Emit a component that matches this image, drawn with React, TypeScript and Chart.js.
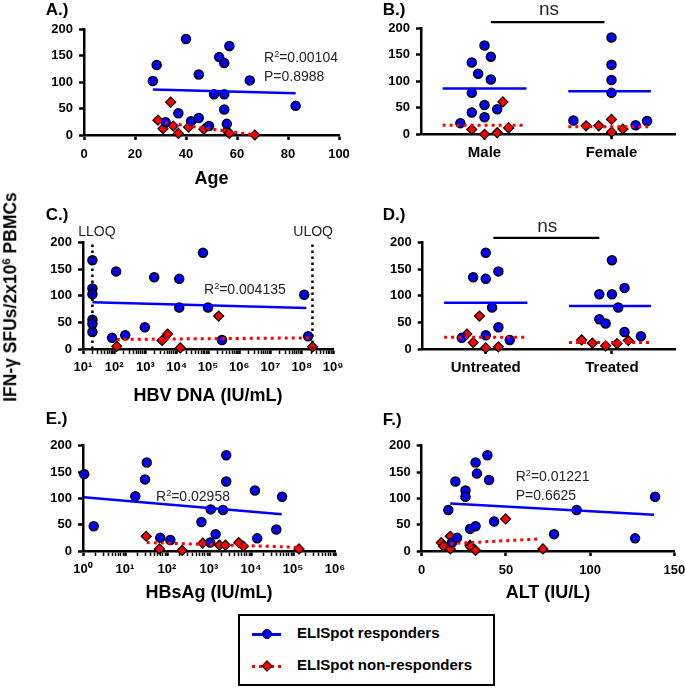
import React, { useEffect, useRef } from "react";
import { Chart, registerables } from "chart.js";
Chart.register(...registerables);

const FONT = "'Liberation Sans', Arial, Helvetica, sans-serif";
const BLUE = "#0000ff";
const RED = "#ff0000";
const ANNO = "#262626";

const yTicks = [0, 50, 100, 150, 200];

// ---- A: Age ----
const ageTicks = [0, 20, 40, 60, 80, 100];
const ageRespX = [27, 28.5, 40, 45, 37, 32, 42, 45, 49, 53, 55, 57, 51, 55, 55, 56, 65, 83];
const ageRespY = [102, 132, 181, 114, 41, 24, 26, 32, 17, 147, 136, 168, 77, 77, 48, 21, 103, 55];
const ageNonX = [29, 34, 31, 35, 37, 41, 47, 56, 57, 67];
const ageNonY = [28, 62, 12, 17, 3, 15, 11, 8, 3, 0];
const ageRespFitX = [27, 83];
const ageRespFitY = [86, 79];
const ageNonFitX = [29, 67];
const ageNonFitY = [25, 0];

// ---- B: Sex ----
const sexCats = ["Male", "Female"];
const maleRespX = [0, -0.1, 0.05, -0.05, 0.05, -0.1, 0, 0.1, -0.1, 0, -0.19];
const maleRespY = [167, 135, 146, 114, 103, 78, 55, 47, 41, 32, 21];
const maleNonX = [0.145, -0.1, 0, 0.1, 0.19];
const maleNonY = [61, 9, 0, 3, 12];
const femaleRespX = [1, 1, 1, 1, 0.7, 1.19, 1.28];
const femaleRespY = [182, 131, 102, 78, 26, 17, 25];
const femaleNonX = [1, 0.8, 0.9, 1.09, 1];
const femaleNonY = [28, 16, 16, 10, 4];
const sexRespMean = [86, 81];
const sexNonMean = [17, 14];
const sexNs = 211;

// ---- C: HBV DNA ----
const dnaRespX = [20, 20, 20, 20, 20, 20, 85, 115, 225, 950, 1900, 12000, 12000, 69000, 100000, 280000, 1.2e8, 1.6e8];
const dnaRespY = [167, 114, 103, 55, 47, 32, 21, 146, 26, 41, 135, 132, 78, 181, 78, 17, 102, 24];
const dnaNonX = [120, 3400, 5100, 13000, 220000, 2.2e8];
const dnaNonY = [5, 16, 28, 2, 62, 4];
const dnaRespFitX = [20, 1.4e8];
const dnaRespFitY = [88, 77];
const dnaNonFitX = [120, 2.2e8];
const dnaNonFitY = [18, 21];
const LLOQ = 20;
const ULOQ = 2.2e8;

// ---- D: Treatment ----
const trtCats = ["Untreated", "Treated"];
const untrRespX = [0, -0.1, 0, 0.1, 0.05, 0.1, -0.19, 0, 0.19];
const untrRespY = [181, 135, 132, 146, 78, 41, 21, 26, 17];
const untrNonX = [-0.05, -0.15, -0.1, 0, 0.1];
const untrNonY = [62, 28, 12, 2, 4];
const trtRespX = [1, 0.9, 1, 1.1, 1.05, 0.9, 0.95, 1.1, 1.23];
const trtRespY = [167, 103, 103, 115, 78, 56, 48, 32, 24];
const trtNonX = [0.76, 0.845, 0.95, 1.04, 1.13];
const trtNonY = [17, 11, 6, 10, 16];
const trtRespMean = [87, 81];
const trtNonMean = [22, 12];
const trtNs = 209;

// ---- E: HBsAg ----
const hbsRespX = [1.07, 1.8, 17.6, 33, 30, 69, 120, 660, 1100, 1070, 1440, 2150, 2570, 2570, 12400, 14000, 40000, 55000];
const hbsRespY = [146, 47, 104, 168, 136, 25, 21, 55, 79, 16, 32, 78, 182, 132, 115, 24, 41, 103];
const hbsNonX = [32, 66, 230, 710, 1770, 2460, 5100, 6600, 139000];
const hbsNonY = [28, 4, 1, 15, 11, 11, 16, 9, 4];
const hbsRespFitX = [1.05, 54000];
const hbsRespFitY = [102, 70];
const hbsNonFitX = [33, 139000];
const hbsNonFitY = [16, 7];

// ---- F: ALT ----
const altTicks = [0, 50, 100, 150];
const altRespX = [15.8, 18, 20, 21, 26, 26, 28.7, 32, 32.8, 32, 39, 40, 43, 78.6, 92, 126.7, 138.6];
const altRespY = [78, 16, 132, 25, 115, 103, 42, 168, 147, 47, 182, 135, 56, 32, 78, 24, 103];
const altNonX = [11.6, 13, 17, 17, 28.7, 29, 32, 49.8, 72];
const altNonY = [16, 9, 28, 4, 11, 8, 1, 61, 4];
const altRespFitX = [17, 138];
const altRespFitY = [90, 69];
const altNonFitX = [17, 70];
const altNonFitY = [14, 23];

const pts = (xs: number[], ys: number[]) => xs.map((x, i) => ({ x, y: ys[i] }));

const SUP: Record<string, string> = { "0": "⁰", "1": "¹", "2": "²", "3": "³", "4": "⁴", "5": "⁵", "6": "⁶", "7": "⁷", "8": "⁸", "9": "⁹" };

const respDots = (data: any[]) => ({
  type: "scatter", data, pointStyle: "circle", pointRadius: 4.5, pointHoverRadius: 4.5,
  backgroundColor: BLUE, borderColor: "#000", borderWidth: 1.5, clip: false, order: 1,
});
const nonDots = (data: any[]) => ({
  type: "scatter", data, pointStyle: "rectRot", pointRadius: 5, pointHoverRadius: 5,
  backgroundColor: RED, borderColor: "#000", borderWidth: 1.2, clip: false, order: 2,
});
const line = (data: any[], color: string, dash: number[] = [], width = 2.5) => ({
  type: "line", data, borderColor: color, borderWidth: width, borderDash: dash, pointRadius: 0,
  pointHoverRadius: 0, fill: false, tension: 0, clip: false, order: 0,
});
const respLine = (data: any[]) => line(data, BLUE, [], 2.5);
const nonLine = (data: any[]) => line(data, RED, [3, 4], 3);

const tickFont = { family: FONT, size: 13, weight: "bold" as const };

function linearX(min: number, max: number, ticks: number[]) {
  return {
    type: "linear", min, max,
    afterBuildTicks: (s: any) => { s.ticks = ticks.map((v) => ({ value: v })); },
    ticks: { color: "#000", padding: 7, maxRotation: 0, autoSkip: false, font: tickFont },
  };
}

function logX(minExp: number, maxExp: number) {
  const t: any[] = [];
  for (let e = minExp; e < maxExp; e++) for (let m = 1; m < 10; m++) t.push({ value: m * Math.pow(10, e), major: m === 1 });
  t.push({ value: Math.pow(10, maxExp), major: true });
  return {
    type: "logarithmic", min: Math.pow(10, minExp), max: Math.pow(10, maxExp),
    afterBuildTicks: (s: any) => { s.ticks = t.map((o) => ({ ...o })); },
    ticks: {
      color: "#000", padding: 6, maxRotation: 0, minRotation: 0, autoSkip: false, font: tickFont,
      callback: (v: number, i: number, ticks: any[]) => {
        if (!ticks[i] || !ticks[i].major) return "";
        const e = String(Math.round(Math.log10(v)));
        return "10" + e.split("").map((c) => SUP[c] || c).join("");
      },
    },
  };
}

function catX(cats: string[]) {
  return {
    type: "linear", min: -0.5, max: 1.5,
    afterBuildTicks: (s: any) => { s.ticks = cats.map((_, i) => ({ value: i })); },
    ticks: {
      color: "#000", padding: 5, maxRotation: 0, autoSkip: false,
      font: { family: FONT, size: 15, weight: "bold" as const },
      callback: (v: number) => cats[Math.round(v)] ?? "",
    },
  };
}

type PanelDef = {
  left: number; top: number; w: number; h: number;
  area: { l: number; r: number; t: number; b: number };
  x: any; xTitle?: string; titlePad?: number; minorTicks?: boolean;
  datasets: any[];
};

function buildConfig(d: PanelDef): any {
  const { area, w, h } = d;
  const zeroPad = (s: any) => { s.paddingLeft = 0; s.paddingRight = 0; s.paddingTop = 0; s.paddingBottom = 0; };
  const y = {
    type: "linear", min: 0, max: 200,
    afterBuildTicks: (s: any) => { s.ticks = yTicks.map((v) => ({ value: v })); },
    afterFit: (s: any) => { s.width = area.l; zeroPad(s); },
    grid: { display: true, drawOnChartArea: false, drawTicks: true, tickLength: 5, tickWidth: 2.5, tickColor: "#000" },
    border: { display: true, color: "#000", width: 2.5 },
    ticks: { color: "#000", padding: 6, font: tickFont },
  };
  const x = {
    ...d.x,
    afterFit: (s: any) => { s.height = h - area.b; zeroPad(s); },
    grid: {
      display: true, drawOnChartArea: false, drawTicks: true, tickLength: 5, tickColor: "#000",
      tickWidth: d.minorTicks ? (ctx: any) => (ctx.tick && ctx.tick.major ? 2.5 : 1.5) : 2.5,
    },
    border: { display: true, color: "#000", width: 2.5 },
    title: {
      display: !!d.xTitle, text: d.xTitle || "", color: "#000",
      font: { family: FONT, size: 18, weight: "bold" }, padding: { top: 0, bottom: d.titlePad ?? 8 },
    },
  };
  return {
    type: "scatter",
    data: { datasets: d.datasets },
    options: {
      animation: false, responsive: false, devicePixelRatio: 1, events: [],
      layout: { padding: { left: 0, top: area.t, right: w - area.r, bottom: 0 } },
      plugins: { legend: { display: false }, tooltip: { enabled: false }, title: { display: false } },
      scales: { x, y },
    },
  };
}

const panels: PanelDef[] = [
  {
    left: 0, top: 0, w: 360, h: 200, area: { l: 84, r: 339, t: 29, b: 135 },
    x: linearX(0, 100, ageTicks), xTitle: "Age", titlePad: 10.5,
    datasets: [
      respLine(pts(ageRespFitX, ageRespFitY)), nonLine(pts(ageNonFitX, ageNonFitY)),
      respDots(pts(ageRespX, ageRespY)), nonDots(pts(ageNonX, ageNonY)),
    ],
  },
  {
    left: 345, top: 0, w: 340, h: 200, area: { l: 76, r: 330, t: 28, b: 134.3 },
    x: catX(sexCats),
    datasets: [
      respLine([{ x: -0.33, y: sexRespMean[0] }, { x: 0.33, y: sexRespMean[0] }]),
      respLine([{ x: 0.66, y: sexRespMean[1] }, { x: 1.31, y: sexRespMean[1] }]),
      nonLine([{ x: -0.33, y: sexNonMean[0] }, { x: 0.33, y: sexNonMean[0] }]),
      nonLine([{ x: 0.66, y: sexNonMean[1] }, { x: 1.31, y: sexNonMean[1] }]),
      line([{ x: 0.05, y: sexNs }, { x: 0.945, y: sexNs }], "#000", [], 2.2),
      respDots(pts(maleRespX, maleRespY)), respDots(pts(femaleRespX, femaleRespY)),
      nonDots(pts(maleNonX, maleNonY)), nonDots(pts(femaleNonX, femaleNonY)),
    ],
  },
  {
    left: 0, top: 200, w: 360, h: 215, area: { l: 83, r: 333, t: 42.7, b: 149 },
    x: logX(1, 9), xTitle: "HBV DNA (IU/mL)", titlePad: 8, minorTicks: true,
    datasets: [
      line([{ x: LLOQ, y: 0 }, { x: LLOQ, y: 200 }], "#000", [2.5, 3.5], 2.5),
      line([{ x: ULOQ, y: 0 }, { x: ULOQ, y: 200 }], "#000", [2.5, 3.5], 2.5),
      respLine(pts(dnaRespFitX, dnaRespFitY)), nonLine(pts(dnaNonFitX, dnaNonFitY)),
      respDots(pts(dnaRespX, dnaRespY)), nonDots(pts(dnaNonX, dnaNonY)),
    ],
  },
  {
    left: 345, top: 200, w: 340, h: 215, area: { l: 77.7, r: 330, t: 42.7, b: 149 },
    x: catX(trtCats),
    datasets: [
      respLine([{ x: -0.33, y: trtRespMean[0] }, { x: 0.33, y: trtRespMean[0] }]),
      respLine([{ x: 0.66, y: trtRespMean[1] }, { x: 1.31, y: trtRespMean[1] }]),
      nonLine([{ x: -0.33, y: trtNonMean[0] }, { x: 0.33, y: trtNonMean[0] }]),
      nonLine([{ x: 0.66, y: trtNonMean[1] }, { x: 1.31, y: trtNonMean[1] }]),
      line([{ x: 0.06, y: trtNs }, { x: 0.9, y: trtNs }], "#000", [], 2.2),
      respDots(pts(untrRespX, untrRespY)), respDots(pts(trtRespX, trtRespY)),
      nonDots(pts(untrNonX, untrNonY)), nonDots(pts(trtNonX, trtNonY)),
    ],
  },
  {
    left: 0, top: 415, w: 360, h: 200, area: { l: 83, r: 335, t: 30.7, b: 136 },
    x: logX(0, 6), xTitle: "HBsAg (IU/mL)", titlePad: 11, minorTicks: true,
    datasets: [
      respLine(pts(hbsRespFitX, hbsRespFitY)), nonLine(pts(hbsNonFitX, hbsNonFitY)),
      respDots(pts(hbsRespX, hbsRespY)), nonDots(pts(hbsNonX, hbsNonY)),
    ],
  },
  {
    left: 345, top: 415, w: 340, h: 200, area: { l: 76.7, r: 329.3, t: 30.7, b: 136 },
    x: linearX(0, 150, altTicks), xTitle: "ALT (IU/L)", titlePad: 11,
    datasets: [
      respLine(pts(altRespFitX, altRespFitY)), nonLine(pts(altNonFitX, altNonFitY)),
      respDots(pts(altRespX, altRespY)), nonDots(pts(altNonX, altNonY)),
    ],
  },
];

function PanelChart({ def }: { def: PanelDef }) {
  const ref = useRef<HTMLCanvasElement>(null);
  useEffect(() => {
    const c = new Chart(ref.current as HTMLCanvasElement, buildConfig(def));
    return () => c.destroy();
  }, []);
  return (
    <canvas ref={ref} width={def.w} height={def.h}
      style={{ position: "absolute", left: def.left, top: def.top, width: def.w, height: def.h }} />
  );
}

function T({ x, y, size, bold, color, center, children }: any) {
  return (
    <div style={{
      position: "absolute", left: x, top: y, fontFamily: FONT, fontSize: size, lineHeight: 1,
      fontWeight: bold ? "bold" : "normal", color: color || "#000", whiteSpace: "nowrap",
      transform: center ? "translateX(-50%)" : undefined,
    }}>{children}</div>
  );
}

const Sup = ({ children }: any) => (
  <span style={{ fontSize: "0.65em", position: "relative", top: "-0.5em" }}>{children}</span>
);

export default function App() {
  return (
    <div style={{ position: "absolute", left: 0, top: 0, width: 685, height: 688, background: "#fff", overflow: "hidden" }}>
      {panels.map((p, i) => <PanelChart key={i} def={p} />)}

      <T x={45.7} y={1.1} size={17} bold>A.)</T>
      <T x={382.7} y={1.1} size={17} bold>B.)</T>
      <T x={45.7} y={206.1} size={17} bold>C.)</T>
      <T x={382.7} y={206.1} size={17} bold>D.)</T>
      <T x={45.7} y={410} size={17} bold>E.)</T>
      <T x={382.7} y={411} size={17} bold>F.)</T>

      <T x={264} y={49.9} size={14} color={ANNO}>R<Sup>2</Sup>=0.00104</T>
      <T x={264} y={69.2} size={14} color={ANNO}>P=0.8988</T>
      <T x={549} y={-1} size={19} color={ANNO} center>ns</T>
      <T x={78.3} y={224.2} size={14} color={ANNO}>LLOQ</T>
      <T x={293.3} y={224.2} size={14} color={ANNO}>ULOQ</T>
      <T x={204} y={281.5} size={14} color={ANNO}>R<Sup>2</Sup>=0.004135</T>
      <T x={547.3} y={215.6} size={19} color={ANNO} center>ns</T>
      <T x={156} y={488.9} size={14} color={ANNO}>R<Sup>2</Sup>=0.02958</T>
      <T x={515.7} y={468.9} size={14} color={ANNO}>R<Sup>2</Sup>=0.01221</T>
      <T x={515.7} y={488.2} size={14} color={ANNO}>P=0.6625</T>

      <div style={{
        position: "absolute", left: 11, top: 297, transform: "translate(-50%, -50%) rotate(-90deg)",
        fontFamily: FONT, fontSize: 17.5, fontWeight: "bold", whiteSpace: "nowrap", lineHeight: 1, color: "#000",
      }}>
        IFN-γ SFUs/2x10<Sup>6</Sup> PBMCs
      </div>

      <div style={{
        position: "absolute", left: 238, top: 614, width: 253, height: 68, border: "2px solid #000", background: "#fff",
      }}>
        <div style={{ position: "absolute", left: 12, top: 16.5, width: 29, height: 0, borderTop: `3px solid ${BLUE}` }} />
        <div style={{ position: "absolute", left: 21.5, top: 13, width: 8, height: 8, borderRadius: "50%", background: BLUE, border: "1.5px solid #000" }} />
        <div style={{ position: "absolute", left: 57, top: 9, fontFamily: FONT, fontSize: 15, fontWeight: "bold", lineHeight: 1, whiteSpace: "nowrap" }}>
          ELISpot responders
        </div>
        <div style={{ position: "absolute", left: 12, top: 48.5, width: 29, height: 0, borderTop: `3px dotted ${RED}` }} />
        <div style={{ position: "absolute", left: 22.5, top: 46, width: 6, height: 6, transform: "rotate(45deg)", background: RED, border: "1.2px solid #000" }} />
        <div style={{ position: "absolute", left: 57, top: 41, fontFamily: FONT, fontSize: 15, fontWeight: "bold", lineHeight: 1, whiteSpace: "nowrap" }}>
          ELISpot non-responders
        </div>
      </div>
    </div>
  );
}
